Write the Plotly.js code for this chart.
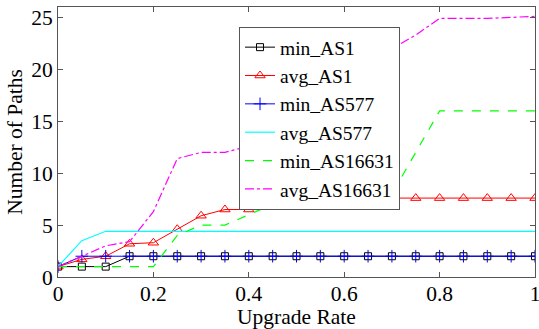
<!DOCTYPE html>
<html>
<head>
<meta charset="utf-8">
<script src="https://cdn.plot.ly/plotly-3.0.1.min.js"></script>
<style>html,body{margin:0;padding:0;background:#fff;}#chart{width:539px;height:329px;}</style>
</head>
<body>
<div id="chart"></div>
<script>
const upgradeRate = [0,0.05,0.1,0.15,0.2,0.25,0.3,0.35,0.4,0.45,0.5,0.55,0.6,0.65,0.7,0.75,0.8,0.85,0.9,0.95,1];
const minAS1      = [1,1,1,2,2,2,2,2,2,2,2,2,2,2,2,2,2,2,2,2,2];
const avgAS1      = [1,1.7,2,3.2,3.3,4.6,5.9,6.5,6.5,7.4,7.45,7.5,7.5,7.5,7.6,7.6,7.6,7.6,7.6,7.6,7.6];
const minAS577    = [1,2,2,2,2,2,2,2,2,2,2,2,2,2,2,2,2,2,2,2,2];
const avgAS577    = [1,3.5,4.4,4.4,4.4,4.4,4.4,4.4,4.4,4.4,4.4,4.4,4.4,4.4,4.4,4.4,4.4,4.4,4.4,4.4,4.4];
const minAS16631  = [1,1,1,1,1,4,5,5,6,7,7,7,7,7,8,12,16,16,16,16,16];
const avgAS16631  = [1,2,3,3.4,6.3,11.4,12,12,12.6,14,16,18,20,21.5,22,23.3,24.9,24.9,24.9,25,25.1];
const seriesNames = ["min_AS1","avg_AS1","min_AS577","avg_AS577","min_AS16631","avg_AS16631"];
const xTickVals   = [0,0.2,0.4,0.6,0.8,1];
const xTickText   = ["0","0.2","0.4","0.6","0.8","1"];
const yTickVals   = [0,5,10,15,20,25];

const FONT = "Liberation Serif";
const traces = [
  {y:minAS1, name:seriesNames[0], mode:"lines+markers", line:{color:"#000000",width:1},
   marker:{symbol:"square-open",size:7,color:"#000000",line:{width:1}}},
  {y:avgAS1, name:seriesNames[1], mode:"lines+markers", line:{color:"#ff0000",width:1},
   marker:{symbol:"triangle-up-open",size:9,color:"#ff0000",line:{width:1}}},
  {y:minAS577, name:seriesNames[2], mode:"lines+markers", line:{color:"#0000ff",width:1},
   marker:{symbol:"cross-thin-open",size:9,color:"#0000ff",line:{width:1,color:"#0000ff"}}},
  {y:avgAS577, name:seriesNames[3], mode:"lines", line:{color:"#00ffff",width:1.2}},
  {y:minAS16631, name:seriesNames[4], mode:"lines", line:{color:"#00ff00",width:1.2,dash:"dash"}},
  {y:avgAS16631, name:seriesNames[5], mode:"lines", line:{color:"#ff00ff",width:1.2,dash:"dashdot"}}
].map(t => Object.assign({x:upgradeRate, type:"scatter"}, t));

const axisCommon = {
  showgrid:false, zeroline:false, showline:true, linecolor:"#555", linewidth:1,
  mirror:"ticks", ticks:"inside", ticklen:5, tickcolor:"#555",
  tickfont:{family:FONT,size:21.5,color:"#000"}, tickmode:"array",
  ticklabeloverflow:"allow"
};
const layout = {
  width:539, height:329,
  margin:{l:58,r:4,t:7,b:52},
  paper_bgcolor:"#fff", plot_bgcolor:"#fff",
  font:{family:FONT,color:"#000",size:21.5},
  showlegend:true,
  legend:{x:0.3795,y:0.926,xanchor:"left",yanchor:"top",bgcolor:"#fff",
          bordercolor:"#555",borderwidth:1,font:{family:FONT,size:19.5,color:"#000"},
          tracegroupgap:0},
  xaxis:Object.assign({}, axisCommon, {range:[0,1], tickvals:xTickVals, ticktext:xTickText,
          ticklabelstandoff:-3,
          title:{text:"Upgrade Rate", font:{family:FONT,size:21.5}, standoff:0}}),
  yaxis:Object.assign({}, axisCommon, {range:[0,26], tickvals:yTickVals,
          title:{text:"Number of Paths", font:{family:FONT,size:21.5}, standoff:2}})
};
Plotly.newPlot("chart", traces, layout, {displayModeBar:false, staticPlot:true});
</script>
</body>
</html>
